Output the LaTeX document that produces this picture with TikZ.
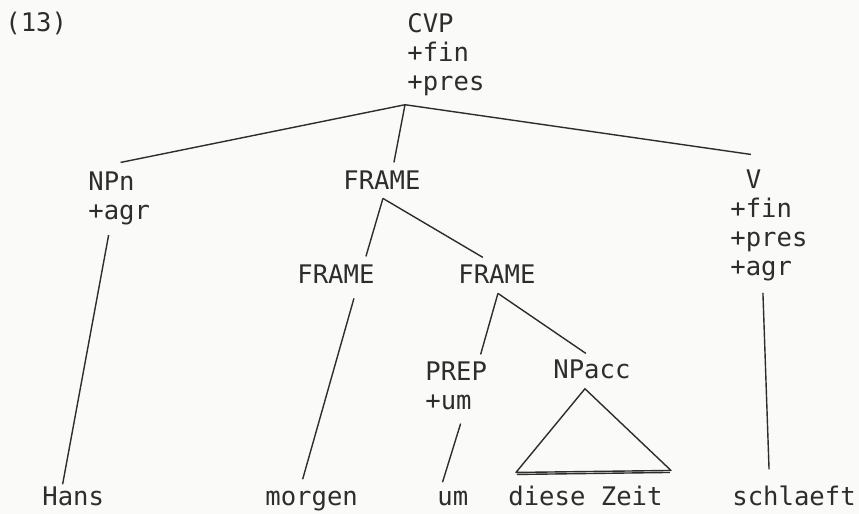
\documentclass[tikz,border=0pt]{standalone}
\usepackage{fontspec}
\setmonofont{DejaVu Sans Mono}
\usetikzlibrary{calc}

\definecolor{ink}{RGB}{45,45,45}
\definecolor{paper}{RGB}{250,250,248}

\begin{document}
\begin{tikzpicture}[x=0.5pt, y=-0.5pt,
    lbl/.style={anchor=base west, inner sep=0pt, align=left, text=ink,
        font=\ttfamily\fontsize{12.8}{14.6}\selectfont},
    br/.style={draw=ink, line width=0.7pt}]
    \fill[paper] (0,0) rectangle (859,514);
    \useasboundingbox (0,0) rectangle (859,514);

    % Kategorien (Basis = letzte Zeile)
    \node[lbl] (num) at (5,32) {(13)};
    \node[lbl] (cvp) at (407,90.4) {CVP\\+fin\\+pres};
    \node[lbl] (npn) at (88,219.2) {NPn\\+agr};
    \node[lbl] (frameA) at (343,190) {FRAME};
    \node[lbl] (verb) at (730,275.6) {\hphantom{+}V\\+fin\\+pres\\+agr};
    \node[lbl] (frameB) at (297,283) {FRAME};
    \node[lbl] (frameC) at (458,283) {FRAME};
    \node[lbl] (prep) at (425,409.2) {PREP\\+um};
    \node[lbl] (npacc) at (553,378) {NPacc};

    % Woerter
    \node[lbl] (hans) at (42,505) {Hans};
    \node[lbl] (morgen) at (265,505) {morgen};
    \node[lbl] (um) at (437,505) {um};
    \node[lbl] (zeit) at (508,505) {diese Zeit};
    \node[lbl] (schlaeft) at (732,505) {schlaeft};

    % Verzweigungspunkte
    \coordinate (cvp-f) at ($(cvp.south west)+(-2,8.6)$);
    \coordinate (frameA-f) at ($(frameA.south)+(1,8)$);
    \coordinate (frameC-f) at ($(frameC.south)+(1,10)$);

    \draw[br] (cvp-f) -- ($(npn.north)+(1.4,-8.5)$);
    \draw[br] (cvp-f) -- ($(frameA.north)+(12,-8.5)$);
    \draw[br] (cvp-f) -- ($(verb.north)+(-18,-14.5)$);
    \draw[br] ($(npn.south)+(-10.6,10)$) -- ($(hans.north)+(-10.6,-1.7)$);
    \draw[br] (frameA-f) -- ($(frameB.north)+(30,-7.5)$);
    \draw[br] (frameA-f) -- ($(frameC.north)+(-14,-6.5)$);
    \draw[br] ($(frameB.south)+(18,15)$) -- ($(morgen.north)+(-9,-11)$);
    \draw[br] (frameC-f) -- ($(prep.north)+(24.4,-6.5)$);
    \draw[br] (frameC-f) -- ($(npacc.north)+(-6,-5.5)$);
    \draw[br] ($(prep.south)+(4.4,13.6)$) -- ($(um.north)+(-10.3,-8)$);
    \draw[br] ($(verb.south)+(-6,11.4)$) -- ($(schlaeft.north)+(-25,-15.7)$);

    % Dreieck ueber NPacc
    \coordinate (tri-t) at ($(npacc.south)+(-7,10)$);
    \coordinate (tri-l) at ($(zeit.north)+(-69.5,-12.7)$);
    \coordinate (tri-r) at ($(zeit.north)+(85.5,-14.7)$);
    \draw[br, line join=round] (tri-t) -- (tri-l) -- (tri-r) -- cycle;
    \draw[br] ($(tri-l)+(1,2)$) -- ($(tri-r)+(-1,2)$);
\end{tikzpicture}
\end{document}
